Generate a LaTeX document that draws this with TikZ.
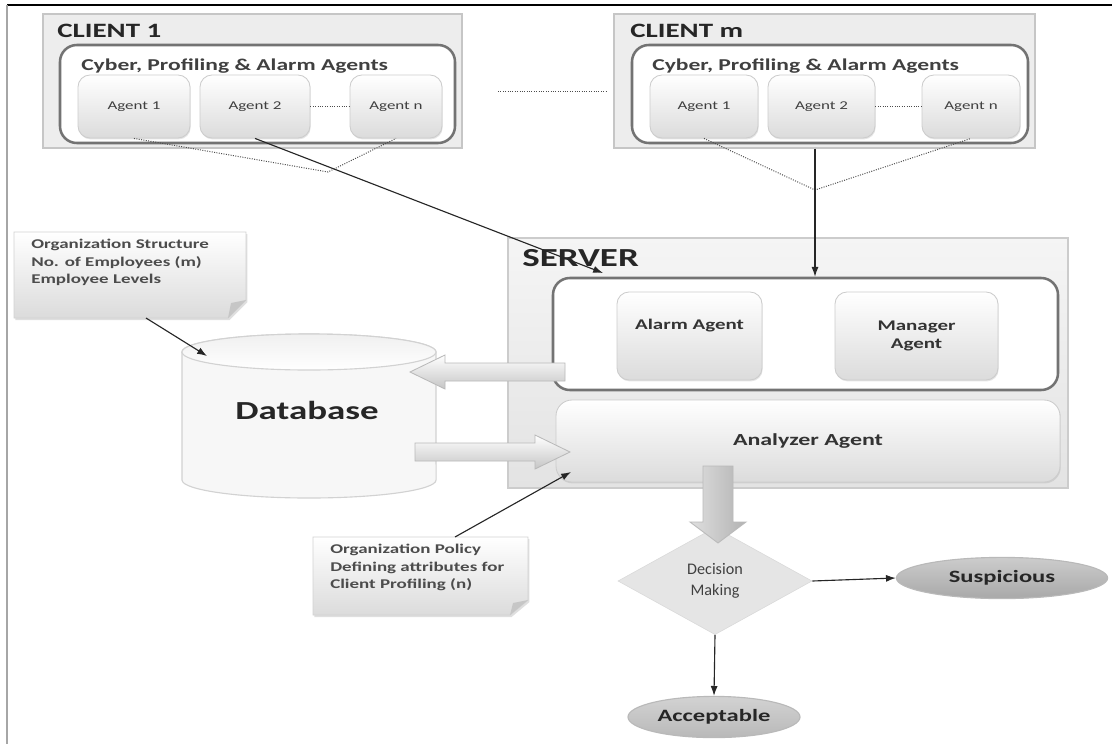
\documentclass[tikz,border=0pt]{standalone}
\usepackage{fontspec}
\setmainfont{Carlito}
\newfontfamily\wf{Carlito}[FakeStretch=1.42]
\usetikzlibrary{shapes.geometric,arrows.meta,shadows,calc}

\newcommand{\pxbox}[7]{%
  \node[#6, minimum width={(#4-#2)*0.025cm}, minimum height={(#5-#3)*0.025cm}, inner sep=0pt]
    (#1) at ({(#2+#4)/2},{(#3+#5)/2}) {#7};}

\tikzset{
  clientbox/.style={draw=gray!45, fill=gray!14, line width=0.9pt},
  serverbox/.style={draw=gray!40, top color=gray!8, bottom color=gray!22, line width=0.9pt},
  innerbox/.style={draw=black!55, fill=white, line width=1.8pt, rounded corners=0.42cm},
  agentbox/.style={draw=gray!40, top color=white, bottom color=gray!28, rounded corners=0.3cm,
     line width=0.6pt, drop shadow={opacity=0.2, shadow xshift=0.5pt, shadow yshift=-1pt},
     font=\wf\fontsize{8.5}{10}\selectfont, text=black!75, align=center},
  bigagent/.style={agentbox, font=\wf\fontsize{10.5}{13}\selectfont\bfseries, text=black!80},
  anabox/.style={agentbox, rounded corners=0.4cm, font=\wf\fontsize{12}{14}\selectfont\bfseries, text=black!80},
  clienttitle/.style={font=\wf\fontsize{14.5}{16}\selectfont\bfseries, text=black!85, inner sep=0pt},
  grouptitle/.style={font=\wf\fontsize{11.8}{14}\selectfont\bfseries, text=black!75, inner sep=0pt},
  servertitle/.style={font=\wf\fontsize{18.5}{20}\selectfont\bfseries, text=black!85, inner sep=0pt},
  dotline/.style={densely dotted, line width=0.7pt, draw=black!70},
  conn/.style={draw=black!85, line width=0.8pt, -{Latex[length=7pt, width=5pt]}},
  notebox/.style={draw=gray!35, top color=white, bottom color=gray!28, line width=0.6pt,
     drop shadow={opacity=0.25, shadow xshift=1pt, shadow yshift=-1.5pt}},
  notetext/.style={font=\wf\fontsize{9.5}{12.5}\selectfont\bfseries, text=black!70, align=left, inner sep=0pt},
  blockarr/.style={draw=gray!55, line width=0.6pt},
  decbox/.style={diamond, aspect=1.8, draw=gray!30, fill=gray!20, inner sep=0pt,
     minimum width=4.85cm, minimum height=2.68cm, align=center,
     font=\fontsize{11.5}{14.5}\selectfont, text=black!75},
  outcome/.style={ellipse, draw=gray!55, line width=0.8pt, inner sep=0pt,
     font=\wf\fontsize{12.3}{14}\selectfont\bfseries, text=black!85},
}

\begin{document}
\begin{tikzpicture}[x=0.025cm, y=-0.025cm]
\useasboundingbox (0,0) rectangle (1112,744);
\fill[white] (0,0) rectangle (1112,744);

% frame
\draw[black, line width=1.2pt] (7,5) -- (1112,5);
\draw[gray!70, line width=1.6pt] (7,5) -- (7,744);

% ---------------- CLIENT 1 ----------------
\pxbox{c1}{43}{14}{462}{148}{clientbox}{}
\node[clienttitle, anchor=west] (c1t) at (57,31) {CLIENT 1};
\pxbox{c1in}{60}{45}{455}{143}{innerbox}{}
\node[grouptitle, anchor=west] (c1g) at (81,66) {Cyber, Profiling \& Alarm Agents};
\pxbox{c1a1}{78}{75}{190}{138}{agentbox}{Agent 1}
\pxbox{c1a2}{200}{75}{310}{138}{agentbox}{Agent 2}
\pxbox{c1an}{350}{75}{442}{138}{agentbox}{Agent n}
\draw[dotline] (c1a2) -- (c1an);

% ---------------- CLIENT m ----------------
\pxbox{cm}{614}{14}{1035}{148}{clientbox}{}
\node[clienttitle, anchor=west] (cmt) at (630,31) {CLIENT m};
\pxbox{cmin}{632}{45}{1028}{143}{innerbox}{}
\node[grouptitle, anchor=west] (cmg) at (652,66) {Cyber, Profiling \& Alarm Agents};
\pxbox{cma1}{650}{75}{758}{138}{agentbox}{Agent 1}
\pxbox{cma2}{768}{75}{875}{138}{agentbox}{Agent 2}
\pxbox{cman}{922}{75}{1020}{138}{agentbox}{Agent n}
\draw[dotline] (cma2) -- (cman);

% dots between clients
\coordinate (gap1) at (498,91);
\coordinate (gap2) at (607,91);
\draw[dotline] (gap1) -- (gap2);

% ---------------- SERVER ----------------
\pxbox{srv}{508}{238}{1068}{488}{serverbox}{}
\node[servertitle, anchor=west] (srvt) at (522,258) {SERVER};
\pxbox{srvin}{553}{278}{1058}{390}{innerbox}{}
\pxbox{alarm}{617}{292}{762}{380}{bigagent}{Alarm Agent\\[4pt]}
\pxbox{mgr}{835}{292}{998}{380}{bigagent}{Manager\\Agent}
\pxbox{ana}{556}{400}{1060}{482}{anabox}{Analyzer Agent}

% ---------------- DATABASE ----------------
\filldraw[fill=gray!6, draw=gray!35, line width=0.8pt]
  (182,352) -- (182,480) arc[start angle=180, end angle=360, x radius=3.175cm, y radius=0.45cm]
  -- (436,352) arc[start angle=0, end angle=180, x radius=3.175cm, y radius=0.45cm] -- cycle;
\shade[top color=gray!12, bottom color=white, draw=gray!35, line width=0.8pt]
  (309,352) ellipse [x radius=3.175cm, y radius=0.45cm];
\node[font=\wf\fontsize{18.5}{22}\selectfont\bfseries, text=black!85] (db) at (307,410) {Database};
\coordinate (dbtop) at (207,356);

% ---------------- NOTES ----------------
\path[notebox] (14,232) -- (246,232) -- (246,300) -- (228,318) -- (14,318) -- cycle;
\fill[gray!45] (228,318) -- (231,303) -- (246,300) -- cycle;
\node[notetext, anchor=north west] (n1) at (31,239)
  {Organization Structure\\No. of Employees (m)\\Employee Levels};
\coordinate (n1out) at (146,318);

\path[notebox] (313,537) -- (528,537) -- (528,600) -- (510,615) -- (313,615) -- cycle;
\fill[gray!45] (510,615) -- (513,603) -- (528,600) -- cycle;
\node[notetext, anchor=north west] (n2) at (330,544)
  {Organization Policy\\Defining attributes for\\Client Profiling (n)};
\coordinate (n2out) at (455,537);

% ---------------- DECISION ----------------
\node[decbox] (dec) at (715,581) {Decision\\Making};
\node[outcome, minimum width=5.28cm, minimum height=1.03cm, top color=gray!40, bottom color=gray!68]
  (sus) at (1002,578) {Suspicious};
\node[outcome, minimum width=4.3cm, minimum height=1.03cm, top color=gray!35, bottom color=gray!55]
  (acc) at (714,717) {Acceptable};

% ---------------- BLOCK ARROWS ----------------
\shade[blockarr, top color=white, bottom color=gray!45]
  (565,363) -- (445,363) -- (445,355) -- (410,372) -- (445,389) -- (445,381) -- (565,381) -- cycle;
\shade[blockarr, top color=white, bottom color=gray!45]
  (415,443) -- (535,443) -- (535,435) -- (570,452) -- (535,469) -- (535,461) -- (415,461) -- cycle;
\shade[blockarr, left color=gray!25, right color=gray!60, draw=gray!55]
  (703,466) -- (733,466) -- (733,522) -- (746,522) -- (718,543) -- (690,522) -- (703,522) -- cycle;

% ---------------- CONNECTORS ----------------
\coordinate (m1) at (328,172);
\draw[dotline] (c1a1.south) -- (m1) -- (c1an.south);
\coordinate (srvhit) at (603,273);
\draw[conn] (c1a2.south) -- (srvhit);

\coordinate (m2) at (815,190);
\draw[dotline] (cma1.south) -- (m2) -- (cman.south);
\draw[conn] (cm.south -| m2) -- (srvin.north -| m2);

\draw[conn] (n1out) -- (dbtop);
\coordinate (anahit) at (571,472);
\draw[conn] (n2out) -- (anahit);

\draw[conn] (dec.east) -- (sus.west);
\draw[conn] (dec.south) -- (acc.north);
\end{tikzpicture}
\end{document}
